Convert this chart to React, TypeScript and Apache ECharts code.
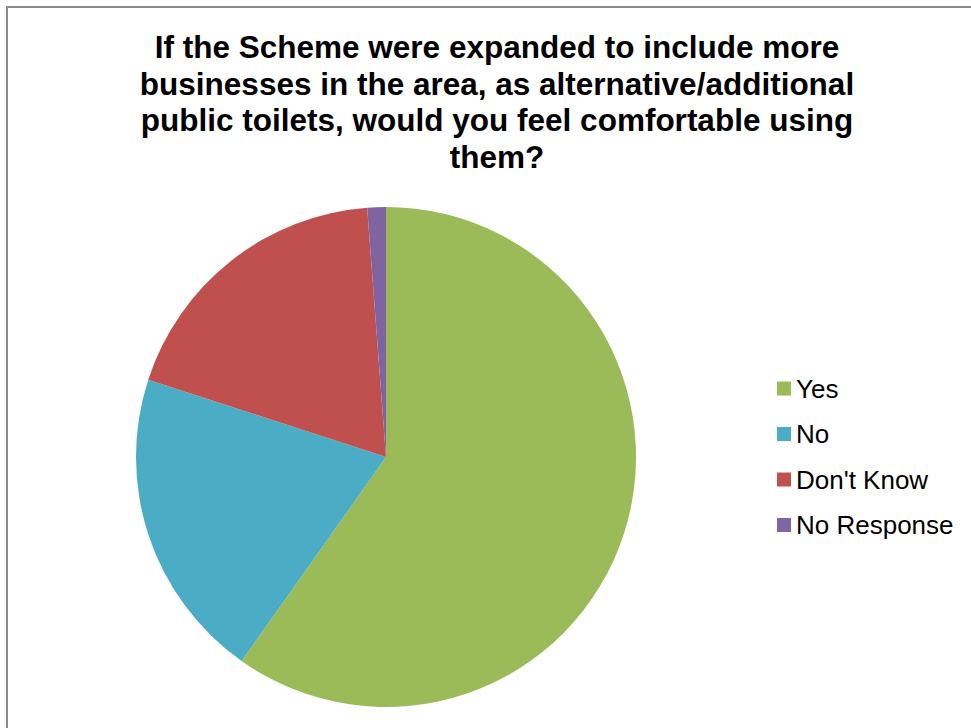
import React, { useEffect, useRef } from "react";
import * as echarts from "echarts";

const titleLines = [
  "If the Scheme were expanded to include more",
  "businesses in the area, as alternative/additional",
  "public toilets, would you feel comfortable using",
  "them?",
];
const categories = ["Yes", "No", "Don't Know", "No Response"];
const values = [59.8, 20.2, 18.8, 1.2];
const colors = ["#9BBB59", "#4BACC6", "#C0504D", "#8064A2"];

export default function App() {
  const ref = useRef<HTMLDivElement>(null);
  useEffect(() => {
    if (!ref.current) return;
    const chart = echarts.init(ref.current, null, { renderer: "svg" });
    chart.setOption({
      animation: false,
      backgroundColor: "#ffffff",
      title: {
        text: titleLines.join("\n"),
        left: 497,
        top: 29,
        padding: 0,
        textAlign: "center",
        textStyle: {
          fontFamily: "Liberation Sans",
          fontWeight: "bold",
          fontSize: 31.5,
          lineHeight: 36.5,
          color: "#000",
        },
      },
      graphic: [
        {
          type: "rect",
          shape: { x: 7, y: 7, width: 1100, height: 900 },
          style: { fill: "none", stroke: "#8a8a8a", lineWidth: 2 },
          silent: true,
          z: 100,
        },
      ],
      legend: {
        orient: "vertical",
        left: 777,
        top: 373.5,
        padding: 0,
        itemWidth: 14,
        itemHeight: 14,
        itemGap: 15.5,
        icon: "rect",
        data: categories,
        textStyle: {
          fontFamily: "Liberation Sans",
          fontSize: 26,
          lineHeight: 30,
          color: "#000",
        },
      },
      series: [
        {
          type: "pie",
          center: [386, 457],
          radius: 250,
          startAngle: 90,
          clockwise: true,
          label: { show: false },
          labelLine: { show: false },
          emphasis: { disabled: true },
          itemStyle: { borderWidth: 0 },
          data: categories.map((c, i) => ({
            name: c,
            value: values[i],
            itemStyle: { color: colors[i] },
          })),
        },
      ],
    });
    return () => chart.dispose();
  }, []);
  return (
    <div
      ref={ref}
      style={{ position: "fixed", left: 0, top: 0, width: 971, height: 728 }}
    />
  );
}
